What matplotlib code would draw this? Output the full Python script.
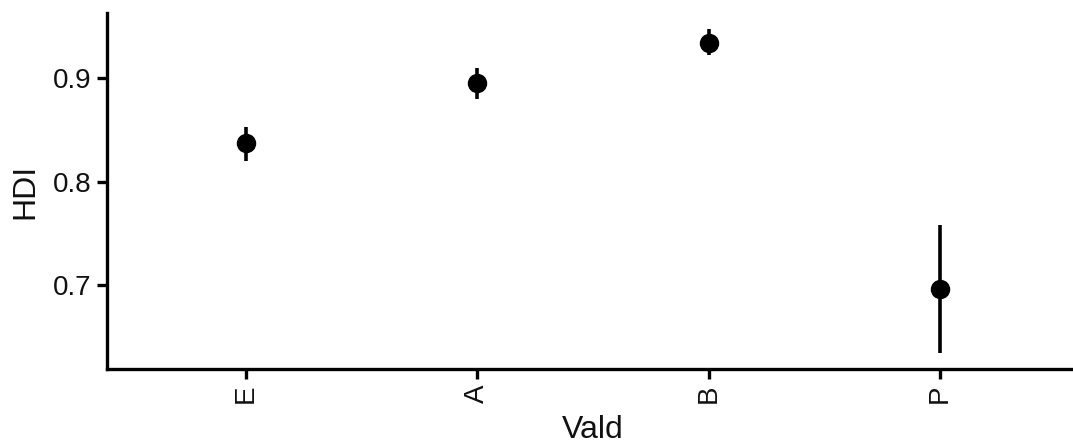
import matplotlib
matplotlib.use("Agg")
import matplotlib.pyplot as plt

plt.rcParams['font.family'] = ['Liberation Sans', 'DejaVu Sans']

# values
categories = ['E', 'A', 'B', 'P']
hdi_mean = [0.837, 0.895, 0.934, 0.697]
hdi_low = [0.820, 0.880, 0.922, 0.635]
hdi_high = [0.853, 0.910, 0.947, 0.758]
yticks = [0.7, 0.8, 0.9]

W, H = 1073, 446
fig = plt.figure(figsize=(W / 100, H / 100), dpi=100)
ax = fig.add_axes([107 / W, 1 - 369 / H, (1079 - 107) / W, (369 - 13) / H])

x = list(range(1, len(categories) + 1))
err_lo = [m - l for m, l in zip(hdi_mean, hdi_low)]
err_hi = [h - m for m, h in zip(hdi_mean, hdi_high)]
ax.errorbar(x, hdi_mean, yerr=[err_lo, err_hi], fmt='o', color='black',
            ecolor='black', elinewidth=2.6, capsize=0, markersize=13)

# ggplot-style expansion
lo, hi = min(hdi_low), max(hdi_high)
pad = (hi - lo) * 0.05
ax.set_ylim(lo - pad, hi + pad)
ax.set_xlim(0.4, len(categories) + 0.6)

ax.set_xticks(x)
ax.set_xticklabels(categories, rotation=90)
ax.set_yticks(yticks)
ax.set_yticklabels([f'{v:.1f}' for v in yticks])

for s in ['top', 'right']:
    ax.spines[s].set_visible(False)
for s in ['left', 'bottom']:
    ax.spines[s].set_linewidth(2.4)
    ax.spines[s].set_color('black')
ax.spines['bottom'].set_clip_on(False)

ax.tick_params(axis='both', length=7, width=2.4, color='black',
               labelsize=20, labelcolor='#111111', pad=4)

ax.set_xlabel('Vald', fontsize=23, color='#111111', labelpad=9)
ax.set_ylabel('HDI', fontsize=23, color='#111111', labelpad=9)

fig.savefig('out.png', dpi=100)
